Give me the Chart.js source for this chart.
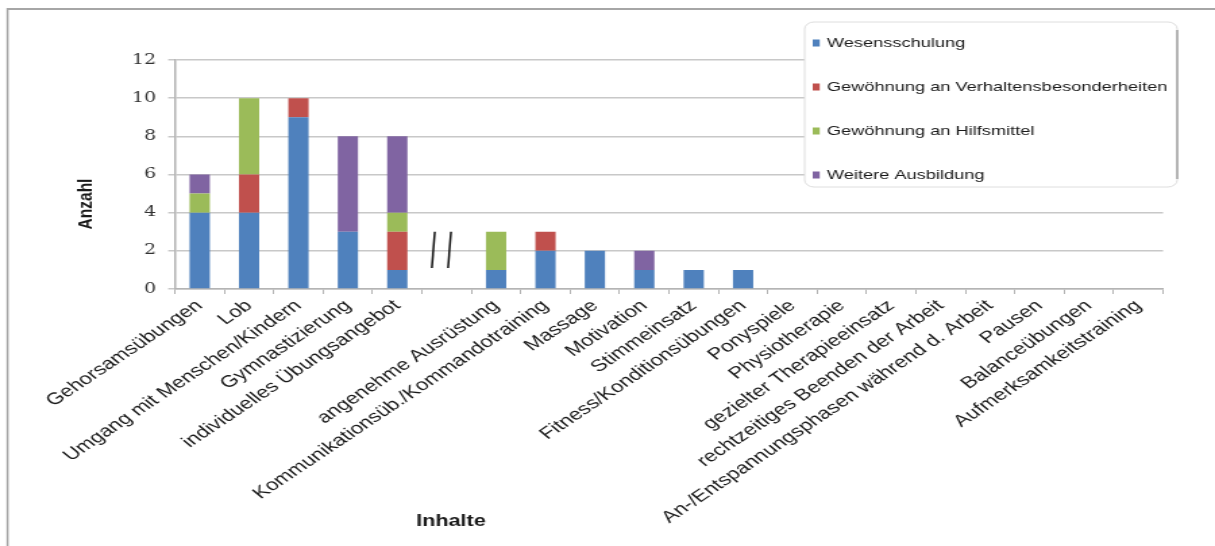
<!DOCTYPE html>
<html>
<head>
<meta charset="utf-8">
<script src="https://cdn.jsdelivr.net/npm/chart.js@4/dist/chart.umd.min.js"></script>
<style>
  html, body { margin: 0; padding: 0; background: #fff; overflow: hidden; }
  /* the chart is laid out narrow and stretched sideways */
  #wrap { width: 900px; height: 546px; transform: scaleX(1.35); transform-origin: 0 0; }
</style>
</head>
<body>
<div id="wrap"><canvas id="chart" width="900" height="546"></canvas></div>
<script>
var categories = [
    'Gehorsamsübungen', 'Lob', 'Umgang mit Menschen/Kindern', 'Gymnastizierung',
    'individuelles Übungsangebot', '', 'angenehme Ausrüstung',
    'Kommunikationsüb./Kommandotraining', 'Massage', 'Motivation', 'Stimmeinsatz',
    'Fitness/Konditionsübungen', 'Ponyspiele', 'Physiotherapie',
    'gezielter Therapieeinsatz', 'rechtzeitiges Beenden der Arbeit',
    'An-/Entspannungsphasen während d. Arbeit', 'Pausen', 'Balanceübungen',
    'Aufmerksamkeitstraining'
];
var seriesNames = ['Wesensschulung', 'Gewöhnung an Verhaltensbesonderheiten', 'Gewöhnung an Hilfsmittel', 'Weitere Ausbildung'];
var wesensschulung     = [4, 4, 9, 3, 1, 0, 1, 2, 2, 1, 1, 1, 0, 0, 0, 0, 0, 0, 0, 0];
var gewoehnungVerhalten = [0, 2, 1, 0, 2, 0, 0, 1, 0, 0, 0, 0, 0, 0, 0, 0, 0, 0, 0, 0];
var gewoehnungHilfsmittel = [1, 4, 0, 0, 1, 0, 2, 0, 0, 0, 0, 0, 0, 0, 0, 0, 0, 0, 0, 0];
var weitereAusbildung  = [1, 0, 0, 5, 4, 0, 0, 0, 0, 1, 0, 0, 0, 0, 0, 0, 0, 0, 0, 0];
var yTicks = [0, 2, 4, 6, 8, 10, 12];
var breakIndex = 5; // the gap marked with "//"

var colors = ['#4F81BD', '#C0504D', '#9BBB59', '#8064A2'];
var sans = '"Liberation Sans", Arial, sans-serif';

// frame, axis titles, legend box and the "//" break
var extras = {
    id: 'extras',
    beforeDraw: function (chart) {
        var ctx = chart.ctx;
        ctx.save();
        ctx.fillStyle = '#fff';
        ctx.fillRect(0, 0, chart.width, chart.height);
        ctx.strokeStyle = '#a6a6a6';
        ctx.lineWidth = 2;
        ctx.beginPath();
        ctx.moveTo(5, 9);
        ctx.lineTo(chart.width, 9);
        ctx.stroke();
        ctx.lineWidth = 1.5;
        ctx.beginPath();
        ctx.moveTo(5.6, 8);
        ctx.lineTo(5.6, chart.height);
        ctx.stroke();
        ctx.restore();
    },
    afterDraw: function (chart) {
        var ctx = chart.ctx;
        var x = chart.scales.x, y = chart.scales.y;
        ctx.save();

        // axis titles
        ctx.fillStyle = '#1a1a1a';
        ctx.font = 'bold 16px ' + sans;
        ctx.textAlign = 'center';
        ctx.textBaseline = 'middle';
        ctx.fillText('Inhalte', 334, 522);
        ctx.font = 'bold 15.5px ' + sans;
        ctx.save();
        ctx.translate(64, 204);
        ctx.rotate(-Math.PI / 2);
        ctx.fillText('Anzahl', 0, 0);
        ctx.restore();

        // break marks
        var xc = x.getPixelForValue(breakIndex);
        var yt = y.getPixelForValue(3), yb = y.getPixelForValue(1.1);
        ctx.strokeStyle = '#111';
        ctx.lineWidth = 1.5;
        [-9.9, 2.1].forEach(function (off) {
            ctx.beginPath();
            ctx.moveTo(xc + off + 1.1, yt);
            ctx.lineTo(xc + off - 1.1, yb);
            ctx.stroke();
        });

        // legend
        var bx = 596, by = 22, bw = 276, bh = 165;
        ctx.fillStyle = '#fff';
        ctx.strokeStyle = '#dedede';
        ctx.lineWidth = 1;
        ctx.beginPath();
        ctx.roundRect(bx, by, bw, bh, 7);
        ctx.fill();
        ctx.stroke();
        ctx.strokeStyle = '#a0a0a0';
        ctx.lineWidth = 1.5;
        ctx.beginPath();
        ctx.moveTo(bx + bw, by + 8);
        ctx.lineTo(bx + bw, by + bh - 8);
        ctx.stroke();

        ctx.font = '13.5px ' + sans;
        ctx.textAlign = 'left';
        chart.data.datasets.forEach(function (ds, i) {
            var ly = 43 + i * 44;
            ctx.fillStyle = ds.backgroundColor;
            ctx.fillRect(602, ly - 3.5, 5.2, 7);
            ctx.fillStyle = '#1a1a1a';
            ctx.fillText(ds.label, 612.5, ly);
        });
        ctx.restore();
    }
};

var series = [wesensschulung, gewoehnungVerhalten, gewoehnungHilfsmittel, weitereAusbildung];
var datasets = series.map(function (values, i) {
    return {
        label: seriesNames[i],
        data: values,
        backgroundColor: colors[i],
        borderWidth: 0,
        barPercentage: 1,
        categoryPercentage: 0.41
    };
});

new Chart(document.getElementById('chart'), {
    type: 'bar',
    data: { labels: categories, datasets: datasets },
    plugins: [extras],
    options: {
        responsive: false,
        animation: false,
        devicePixelRatio: 1,
        layout: { padding: { top: 60, right: 38.5, bottom: 0, left: 0 } },
        plugins: {
            legend: { display: false },
            tooltip: { enabled: false }
        },
        scales: {
            x: {
                stacked: true,
                grid: { drawOnChartArea: false, drawTicks: true, tickLength: 5, color: '#b4b4b4', offset: true },
                border: { color: '#b4b4b4', width: 1.5 },
                ticks: {
                    autoSkip: false, minRotation: 42, maxRotation: 42, padding: 2,
                    color: '#1a1a1a', font: { family: sans, size: 16.5 }
                },
                afterFit: function (s) { s.height = 257; }
            },
            y: {
                stacked: true,
                min: 0,
                max: 12,
                afterBuildTicks: function (s) {
                    s.ticks = yTicks.map(function (v) { return { value: v }; });
                },
                ticks: { padding: 9, color: '#333', font: { family: '"DejaVu Serif", serif', size: 14 } },
                grid: { color: '#c8c8c8', lineWidth: 1.5, tickLength: 5 },
                border: { color: '#b4b4b4', width: 1.5 },
                afterFit: function (s) { s.width = 129.6; }
            }
        }
    }
});
</script>
</body>
</html>
